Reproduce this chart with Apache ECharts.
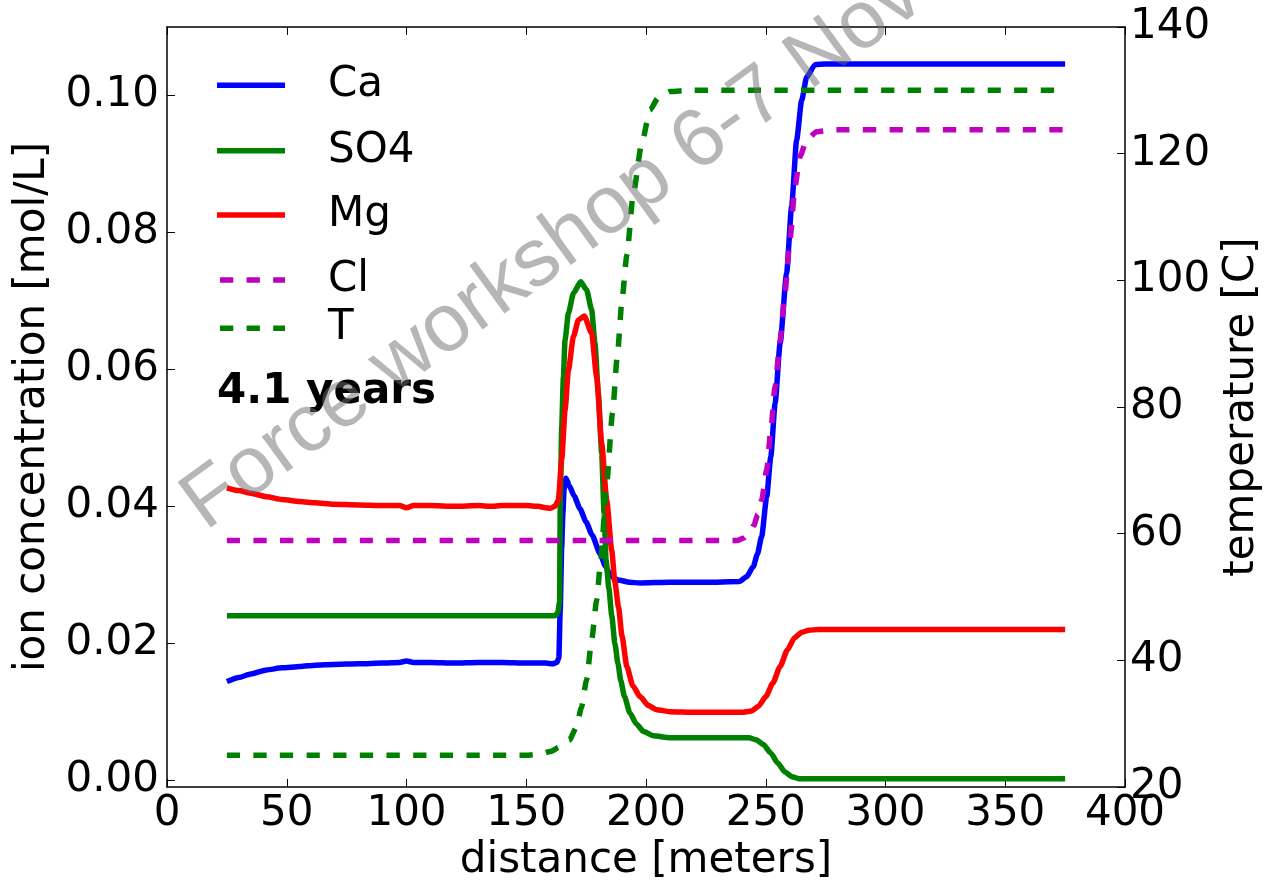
<!DOCTYPE html>
<html>
<head>
<meta charset="utf-8">
<script src="https://cdn.jsdelivr.net/npm/echarts@6/dist/echarts.min.js"></script>
<style>
  html, body { margin: 0; padding: 0; background: #ffffff; }
  #chart { width: 1265px; height: 882px; }
</style>
</head>
<body>
<div id="chart"></div>
<script>
// ---- data: [distance (m), value] pairs ----
const seriesNames = ['Ca', 'SO4', 'Mg', 'Cl', 'T'];

const ca = [
  [25, 0.0144], [30, 0.0150], [35, 0.0155], [41.6, 0.0161], [48, 0.0164], [55.5, 0.0166],
  [62, 0.0168], [69.4, 0.0169], [80, 0.0170], [90, 0.0171], [97, 0.0172], [100, 0.0174],
  [103, 0.0172], [110, 0.0172], [120, 0.0171], [130, 0.0172], [140, 0.0172], [150, 0.0171],
  [158, 0.0171], [161, 0.0170], [162.8, 0.0172], [163.6, 0.0178], [164.2, 0.025], [164.8, 0.034],
  [165.3, 0.039], [165.8, 0.0425], [166.6, 0.0441], [168, 0.0430], [170, 0.0415], [172.5, 0.0396],
  [175, 0.0377], [177.5, 0.0358], [180.8, 0.0331], [183, 0.0313], [185, 0.0300], [187, 0.0294],
  [189, 0.0292], [193, 0.0289], [197.5, 0.0288], [210, 0.0289], [225, 0.0289], [239, 0.0290],
  [242, 0.0297], [244.8, 0.0312], [246.5, 0.0330], [248.3, 0.0356], [250.4, 0.0414], [252.1, 0.0472],
  [253.9, 0.0550], [256, 0.0638], [258.7, 0.0740], [260.8, 0.0838], [262.9, 0.0935], [265, 0.0993],
  [267.1, 0.1027], [270.6, 0.1045], [275, 0.1046], [375, 0.1046]
];

const so4 = [
  [25, 0.024], [100, 0.024], [162, 0.024], [163.2, 0.0245], [163.9, 0.026], [164.2, 0.040],
  [164.8, 0.0516], [165.5, 0.0589], [166.2, 0.0643], [167.6, 0.0682], [169.7, 0.0711], [172.7, 0.0728],
  [175.2, 0.0716], [177.3, 0.0687], [178.7, 0.0638], [180.1, 0.0565], [181.5, 0.0477], [182.5, 0.039],
  [183.3, 0.0322], [184.5, 0.028], [185.7, 0.024], [187, 0.020], [188.3, 0.017], [189.5, 0.0145],
  [191, 0.0122], [193.3, 0.0098], [196, 0.0082], [199, 0.0071], [203, 0.0065], [210, 0.0062],
  [243, 0.0062], [246, 0.0059], [249, 0.0052], [252, 0.0040], [255, 0.0025], [258, 0.0012],
  [261, 0.0005], [264, 0.0002], [375, 0.0002]
];

const mg = [
  [25, 0.0427], [30, 0.0423], [35, 0.0419], [41.6, 0.0414], [48, 0.0410], [55.5, 0.0407],
  [62, 0.0405], [69.4, 0.0403], [80, 0.0402], [90, 0.0401], [97, 0.0401], [100, 0.0398],
  [103, 0.0401], [110, 0.0401], [120, 0.0400], [130, 0.0401], [135, 0.0400], [140, 0.0401],
  [150, 0.0401], [155, 0.0400], [158, 0.0398], [160, 0.0397], [162, 0.0400], [163.4, 0.0409],
  [164.8, 0.0468], [166.2, 0.054], [167.6, 0.0599], [169.7, 0.0648], [171.8, 0.0672], [174.2, 0.0678],
  [177.3, 0.0653], [179.4, 0.0589], [181.5, 0.0492], [183.6, 0.0409], [185.7, 0.0335], [187, 0.029],
  [188.5, 0.0253], [190, 0.021], [192, 0.0166], [194.5, 0.0138], [197.5, 0.0122], [201, 0.0109],
  [204.4, 0.0103], [210, 0.0100], [220, 0.0099], [240, 0.0099], [244, 0.0101], [247, 0.0108],
  [250, 0.0122], [253, 0.0142], [256, 0.0166], [259, 0.0190], [262, 0.0208], [265, 0.0216],
  [268, 0.0219], [272, 0.0220], [375, 0.0220]
];

const cl = [
  [25, 0.035], [238, 0.035], [241, 0.0354], [243, 0.036], [245, 0.0372], [246.7, 0.0388],
  [248.3, 0.0409], [250.4, 0.0453], [252.1, 0.0511], [253.9, 0.0575], [256, 0.0643], [258, 0.0711],
  [260.1, 0.0789], [262.2, 0.0867], [264.3, 0.0911], [267.1, 0.0935], [271.2, 0.0947], [278, 0.095],
  [375, 0.095]
];

const temperature = [
  [25, 25], [150, 25], [156, 25.2], [160, 25.6], [164, 26.3], [168, 27.4], [171, 29.5],
  [173, 32.5], [175.2, 36.9], [177.3, 43.2], [179.4, 49.5], [181.1, 55.8], [183.6, 68],
  [186, 79], [188, 88], [190, 97], [192, 104], [194.7, 113.7], [198.2, 121.6], [201.7, 126.9],
  [205, 128.8], [210, 129.8], [218, 130], [375, 130]
];

const concTicks = [0, 0.02, 0.04, 0.06, 0.08, 0.10];
const snapshotLabel = '4.1 years';
const watermarkText = 'Force workshop 6-7 Nov';

// ---- styling ----
const FONT = 'DejaVu Sans';
const FS = 42;
const LW = 5.5;
const DASH = [13.3, 13.3];
const colors = ['#0000ff', '#008000', '#ff0000', '#bf00bf', '#008000'];
const dashed = [false, false, false, true, true];
const seriesData = [ca, so4, mg, cl, temperature];
const axisIndex = [0, 0, 0, 0, 1];

const chart = echarts.init(document.getElementById('chart'), null, { renderer: 'canvas' });

const axisLineStyle = { color: '#000', width: 1.5 };
const tickStyle = { color: '#000', width: 1 };
const labelStyle = { color: '#000', fontFamily: FONT, fontSize: FS };

const series = seriesNames.map((name, i) => ({
  name,
  type: 'line',
  data: seriesData[i],
  xAxisIndex: 0,
  yAxisIndex: axisIndex[i],
  showSymbol: false,
  symbol: 'none',
  smooth: 0.2,
  smoothMonotone: 'x',
  animation: false,
  lineStyle: { color: colors[i], width: LW, type: dashed[i] ? DASH : 'solid', cap: 'butt', join: 'round' },
  itemStyle: { color: colors[i] },
  emphasis: { disabled: true }
}));

// legend rows drawn as graphic elements (line sample + label)
const legendRowsY = [85.3, 150.7, 215, 280, 328.3];
const legendGraphics = [];
seriesNames.forEach((name, i) => {
  legendGraphics.push({
    type: 'line',
    shape: { x1: 217, y1: legendRowsY[i], x2: 285, y2: legendRowsY[i] },
    style: { stroke: colors[i], lineWidth: LW, lineDash: dashed[i] ? [13.3, 13.3] : null, lineDashOffset: -3, lineCap: 'butt' },
    z: 50
  });
  legendGraphics.push({
    type: 'text',
    x: 328, y: legendRowsY[i],
    style: { text: name, font: FS + 'px "' + FONT + '"', fill: '#000', textAlign: 'left', textVerticalAlign: 'middle' },
    z: 50
  });
});

const option = {
  backgroundColor: '#ffffff',
  animation: false,
  grid: { left: 167, top: 27, right: 140, bottom: 95, containLabel: false, outerBoundsMode: 'none' },
  xAxis: [
    {
      type: 'value', position: 'bottom', min: 0, max: 400, interval: 50,
      name: 'distance [meters]', nameLocation: 'middle', nameGap: 49,
      nameTextStyle: labelStyle,
      axisLine: { show: true, onZero: false, lineStyle: axisLineStyle },
      axisTick: { show: true, inside: true, length: 8, lineStyle: tickStyle },
      axisLabel: { show: true, margin: 6, ...labelStyle },
      splitLine: { show: false }
    },
    {
      type: 'value', position: 'top', min: 0, max: 400, interval: 50,
      axisLine: { show: true, onZero: false, lineStyle: axisLineStyle },
      axisTick: { show: true, inside: true, length: 8, lineStyle: tickStyle },
      axisLabel: { show: false },
      splitLine: { show: false }
    }
  ],
  yAxis: [
    {
      type: 'value', position: 'left', min: -0.001, max: 0.11,
      name: 'ion concentration [mol/L]', nameLocation: 'middle', nameGap: 113, nameRotate: 90,
      nameTextStyle: labelStyle,
      axisLine: { show: true, onZero: false, lineStyle: axisLineStyle },
      axisTick: { show: true, inside: true, length: 8, lineStyle: tickStyle, customValues: concTicks },
      axisLabel: { show: true, margin: 8, ...labelStyle, customValues: concTicks, formatter: v => Number(v).toFixed(2) },
      splitLine: { show: false }
    },
    {
      type: 'value', position: 'right', min: 20, max: 140, interval: 20,
      name: 'temperature [C]', nameLocation: 'middle', nameGap: 89, nameRotate: 90,
      nameTextStyle: labelStyle,
      axisLine: { show: true, onZero: false, lineStyle: axisLineStyle },
      axisTick: { show: true, inside: true, length: 8, lineStyle: tickStyle },
      axisLabel: { show: true, margin: 5, ...labelStyle },
      splitLine: { show: false }
    }
  ],
  series,
  graphic: [
    ...legendGraphics,
    {
      type: 'text',
      x: 217, y: 392,
      style: { text: snapshotLabel, font: 'bold ' + FS + 'px "' + FONT + '"', fill: '#000', textAlign: 'left', textVerticalAlign: 'middle' },
      z: 50
    },
    {
      type: 'text',
      x: 553, y: 250,
      rotation: 0.63,
      style: { text: watermarkText, font: '82px "Liberation Sans"', fill: 'rgba(110,110,110,0.5)', textAlign: 'center', textVerticalAlign: 'middle' },
      z: 100
    }
  ]
};

chart.setOption(option);
</script>
</body>
</html>
